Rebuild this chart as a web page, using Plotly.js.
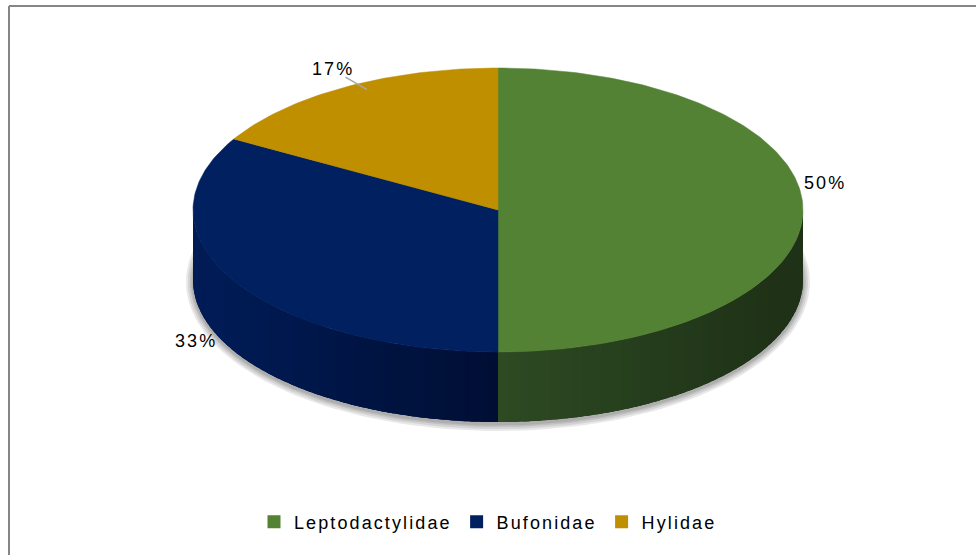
<!DOCTYPE html>
<html>
<head>
<meta charset="utf-8">
<script src="https://cdn.plot.ly/plotly-3.0.1.min.js"></script>
<style>
  html, body { margin: 0; padding: 0; background: #fff; }
  .legendtext, .annotation-text { letter-spacing: 2.1px; }
</style>
</head>
<body>
<div id="chart" style="width:976px;height:555px;"></div>
<script>
// ---- data ----
const categories = ['Leptodactylidae', 'Bufonidae', 'Hylidae'];
const values = [3, 2, 1];
const topColors = ['#548235', '#002060', '#BF8F00'];
const sideLight = ['#2d4a23', '#001b55', '#7a5c00'];
const sideDark  = ['#1f3217', '#000e33', '#5a4400'];
const showLeader = [false, false, true];

// ---- geometry (layout constants) ----
const W = 976, H = 555;
const cx = 498, cy = 210, rx = 305, ry = 142, depth = 70;
const labelOffset = 30;
const labelNudge = [[-8, -27], [-12, 10], [2, 8]];

const total = values.reduce((a, b) => a + b, 0);
const deg = Math.PI / 180;
function pt(a, dx, dy, extra) {
  const e = extra || 0;
  return [cx + (rx + e) * Math.sin(a * deg) + (dx || 0), cy - (ry + e) * Math.cos(a * deg) + (dy || 0)];
}
function hexToRgb(h) { return [1, 3, 5].map(i => parseInt(h.substr(i, 2), 16)); }
function mix(c1, c2, t) {
  const a = hexToRgb(c1), b = hexToRgb(c2);
  return 'rgb(' + a.map((v, i) => Math.round(v + (b[i] - v) * t)).join(',') + ')';
}

const traces = [];

// shadow
[7, 5, 3, 1.5].forEach(k => {
  const xs = [], ys = [];
  for (let a = 0; a <= 360; a += 2) { const p = pt(a, 0, depth + 2, k); xs.push(p[0]); ys.push(p[1]); }
  traces.push({ x: xs, y: ys, mode: 'lines', fill: 'toself', fillcolor: 'rgba(0,0,0,0.09)',
    line: { width: 0 }, hoverinfo: 'skip', showlegend: false });
});

// slice angles
const starts = [], ends = [];
let acc = 0;
values.forEach(v => { starts.push(acc / total * 360); acc += v; ends.push(acc / total * 360); });

function wallColor(i, xm) {
  const t = Math.min(1, Math.abs(xm - cx) / rx * 1.1);
  return (i === 0) ? mix(sideLight[i], sideDark[i], t) : mix(sideDark[i], sideLight[i], t);
}

// side walls (front half: 90..270)
values.forEach((v, i) => {
  const a0 = Math.max(starts[i], 90), a1 = Math.min(ends[i], 270);
  if (a1 <= a0) return;
  // base wall in one piece
  const bx = [], by = [];
  for (let a = a0; a <= a1 + 1e-9; a += 1) { const p = pt(Math.min(a, a1)); bx.push(p[0]); by.push(p[1]); }
  for (let a = a1; a >= a0 - 1e-9; a -= 1) { const p = pt(Math.max(a, a0)); bx.push(p[0]); by.push(p[1] + depth); }
  const baseCol = wallColor(i, pt((a0 + a1) / 2)[0]);
  traces.push({ x: bx, y: by, mode: 'lines', fill: 'toself', fillcolor: baseCol, line: { width: 0 },
    hoverinfo: 'skip', showlegend: false });
  // gradient strips, overlapping to hide seams
  const step = 2;
  for (let a = a0; a < a1 - 1e-9; a += step) {
    const b = Math.min(a + step * 1.6, a1);
    const p0 = pt(a), p1 = pt(b);
    const col = wallColor(i, pt(a + step / 2)[0]);
    traces.push({
      x: [p0[0], p1[0], p1[0], p0[0], p0[0]],
      y: [p0[1], p1[1], p1[1] + depth, p0[1] + depth, p0[1]],
      mode: 'lines', fill: 'toself', fillcolor: col, line: { width: 0 },
      hoverinfo: 'skip', showlegend: false
    });
  }
});

// top faces
values.forEach((v, i) => {
  const xs = [cx], ys = [cy];
  for (let a = starts[i]; a <= ends[i] + 1e-9; a += 1) { const p = pt(Math.min(a, ends[i])); xs.push(p[0]); ys.push(p[1]); }
  const pe = pt(ends[i]); xs.push(pe[0]); ys.push(pe[1]);
  xs.push(cx); ys.push(cy);
  traces.push({ x: xs, y: ys, mode: 'lines', fill: 'toself', fillcolor: topColors[i],
    line: { width: 0.5, color: topColors[i] }, hoverinfo: 'skip', showlegend: false });
});

// legend entries
categories.forEach((c, i) => {
  traces.push({ x: [null], y: [null], name: c, mode: 'markers',
    marker: { symbol: 'square', size: 13, color: topColors[i] }, hoverinfo: 'skip', showlegend: true });
});

// labels
const annotations = [], shapes = [];
values.forEach((v, i) => {
  const m = (starts[i] + ends[i]) / 2;
  const c = Math.cos(m * deg);
  const p = pt(m, labelNudge[i][0], (c < 0 ? -c * depth : 0) + labelNudge[i][1], labelOffset);
  annotations.push({ x: p[0], y: p[1], xref: 'x', yref: 'y', text: Math.round(v / total * 100) + '%',
    showarrow: false, font: { family: 'Liberation Sans, Arial, sans-serif', size: 18, color: '#000' } });
  if (showLeader[i]) {
    const q0 = pt(m, 0, 0, -3), q1 = pt(m, 0, 0, 16);
    shapes.push({ type: 'line', xref: 'x', yref: 'y', x0: q0[0] + 20, y0: q0[1], x1: q1[0] + 8, y1: q1[1] + 4,
      line: { color: '#a6a6a6', width: 1.5 } });
  }
});

// chart border (top and left visible)
shapes.push({ type: 'line', xref: 'paper', yref: 'paper', x0: 9 / W, x1: 1, y0: 1 - 6 / H, y1: 1 - 6 / H,
  line: { color: '#868686', width: 2 } });
shapes.push({ type: 'line', xref: 'paper', yref: 'paper', x0: 9 / W, x1: 9 / W, y0: 0, y1: 1 - 6 / H,
  line: { color: '#868686', width: 2 } });

const layout = {
  width: W, height: H,
  margin: { l: 0, r: 0, t: 0, b: 0, pad: 0 },
  paper_bgcolor: '#fff', plot_bgcolor: '#fff',
  xaxis: { range: [0, W], visible: false, fixedrange: true },
  yaxis: { range: [H, 0], visible: false, fixedrange: true },
  showlegend: true,
  legend: { orientation: 'h', x: 0.5, xanchor: 'center', y: (H - 522) / H, yanchor: 'middle',
    font: { family: 'Liberation Sans, Arial, sans-serif', size: 18, color: '#000' },
    itemwidth: 30, bgcolor: 'rgba(0,0,0,0)' },
  annotations: annotations,
  shapes: shapes
};

Plotly.newPlot('chart', traces, layout, { displayModeBar: false, staticPlot: true });
</script>
</body>
</html>
